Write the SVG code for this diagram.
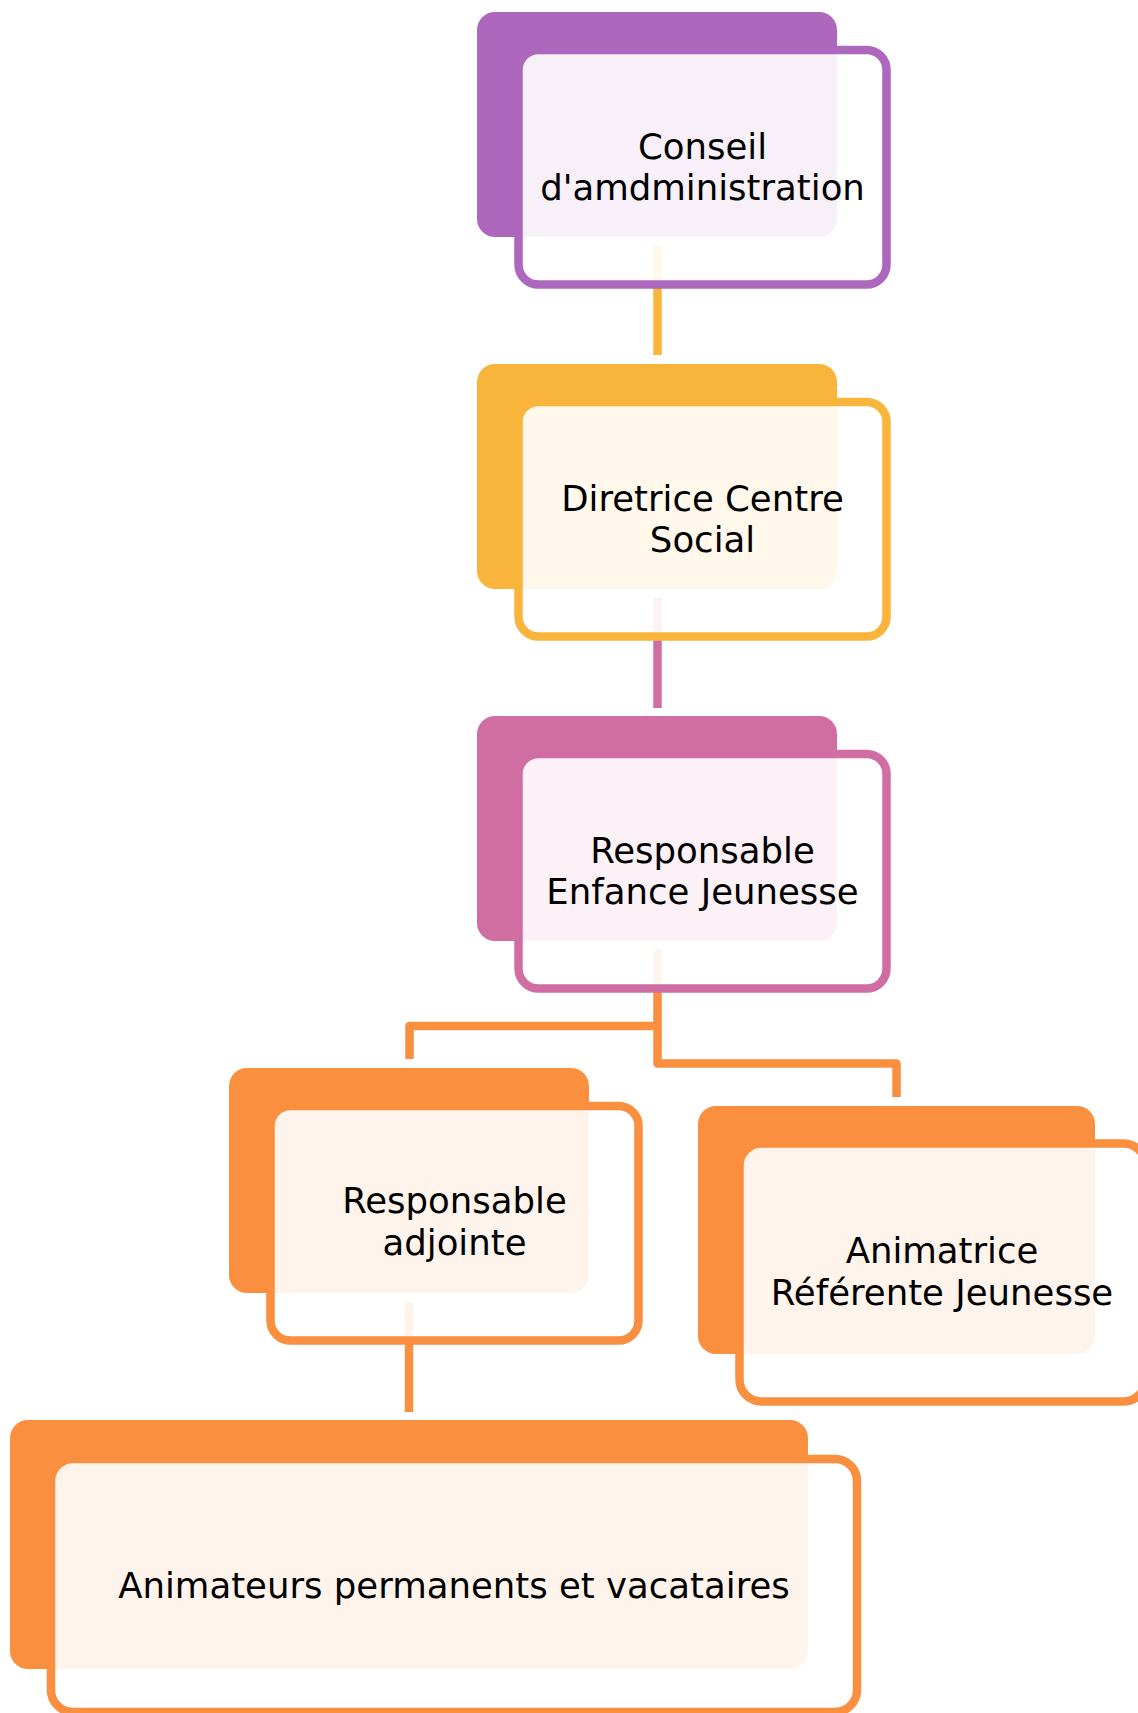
<svg xmlns="http://www.w3.org/2000/svg" width="1138" height="1713" viewBox="0 0 1138 1713">
<style>
.back{stroke:none}
.front{fill:#ffffff;fill-opacity:0.9;stroke-width:8.5}
.conn{fill:none;stroke-width:8.5;stroke-linejoin:round;stroke-linecap:butt}
text{font-family:"DejaVu Sans","Liberation Sans",sans-serif;font-size:35.5px;fill:#000;text-anchor:middle}
</style>
<rect width="1138" height="1713" fill="#ffffff"/>
<g id="connectors">
<path class="conn" d="M657.5,246 V355" stroke="#F9B53B"/>
<path class="conn" d="M657.5,598 V708" stroke="#D06DA3"/>
<path class="conn" d="M657.5,950 V1063.5 H896.5 V1097" stroke="#F98F3F"/>
<path class="conn" d="M657.5,1026 H409.5 V1059" stroke="#F98F3F"/>
<path class="conn" d="M409,1302 V1412" stroke="#F98F3F"/>
</g>
<g id="node-conseil">
<rect class="back" x="477" y="12" width="360" height="225" rx="18" fill="#AD67BC"/>
<rect class="front" x="518.5" y="50" width="368" height="234.5" rx="20" stroke="#AD67BC"/>
<text x="702.5" y="159">Conseil</text>
<text x="702.5" y="200">d'amdministration</text>
</g>
<g id="node-directrice">
<rect class="back" x="477" y="364" width="360" height="225" rx="18" fill="#F9B53B"/>
<rect class="front" x="518.5" y="402" width="368" height="234.5" rx="20" stroke="#F9B53B"/>
<text x="702.5" y="511">Diretrice Centre</text>
<text x="702.5" y="552">Social</text>
</g>
<g id="node-responsable-ej">
<rect class="back" x="477" y="716" width="360" height="225" rx="18" fill="#D06DA3"/>
<rect class="front" x="518.5" y="754" width="368" height="234.5" rx="20" stroke="#D06DA3"/>
<text x="702.5" y="863">Responsable</text>
<text x="702.5" y="904">Enfance Jeunesse</text>
</g>
<g id="node-adjointe">
<rect class="back" x="229" y="1068" width="360" height="225" rx="18" fill="#F98F3F"/>
<rect class="front" x="270.5" y="1106" width="368" height="234.5" rx="20" stroke="#F98F3F"/>
<text x="454.5" y="1213">Responsable</text>
<text x="454.5" y="1255">adjointe</text>
</g>
<g id="node-animatrice">
<rect class="back" x="698" y="1106" width="397" height="248" rx="18" fill="#F98F3F"/>
<rect class="front" x="739.5" y="1143.5" width="406" height="258" rx="22" stroke="#F98F3F"/>
<text x="942" y="1263">Animatrice</text>
<text x="942" y="1305">Référente Jeunesse</text>
</g>
<g id="node-animateurs">
<rect class="back" x="10" y="1420" width="798" height="249" rx="18" fill="#F98F3F"/>
<rect class="front" x="51" y="1459" width="806" height="253" rx="22" stroke="#F98F3F"/>
<text x="454" y="1598">Animateurs permanents et vacataires</text>
</g>
</svg>
